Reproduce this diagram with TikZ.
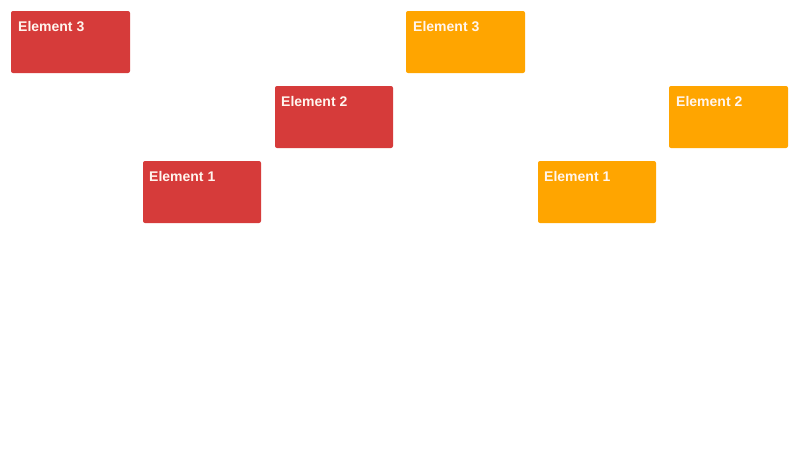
\documentclass[tikz,border=0pt]{standalone}
\usepackage{fontspec}
\setmainfont{Liberation Sans}
\definecolor{redbox}{HTML}{D63B3A}
\definecolor{orangebox}{HTML}{FFA500}
\definecolor{txt}{HTML}{FFF5EE}
\begin{document}
\begin{tikzpicture}[x=1pt,y=1pt,
  elbox/.style={rounded corners=2pt, draw=none},
  eltext/.style={anchor=base west, inner sep=0pt, text=txt, font=\fontsize{14}{16}\selectfont\bfseries}]
\useasboundingbox (0,0) rectangle (800,-450);
% red group
\fill[elbox, redbox] (11,-11) rectangle (130,-73);
\node[eltext] (r3) at (18,-31) {Element 3};
\fill[elbox, redbox] (275,-86) rectangle (393,-148);
\node[eltext] (r2) at (281,-106) {Element 2};
\fill[elbox, redbox] (143,-161) rectangle (261,-223);
\node[eltext] (r1) at (149,-181) {Element 1};
% orange group
\fill[elbox, orangebox] (406,-11) rectangle (525,-73);
\node[eltext] (o3) at (413,-31) {Element 3};
\fill[elbox, orangebox] (669,-86) rectangle (788,-148);
\node[eltext] (o2) at (676,-106) {Element 2};
\fill[elbox, orangebox] (538,-161) rectangle (656,-223);
\node[eltext] (o1) at (544,-181) {Element 1};
\end{tikzpicture}
\end{document}
